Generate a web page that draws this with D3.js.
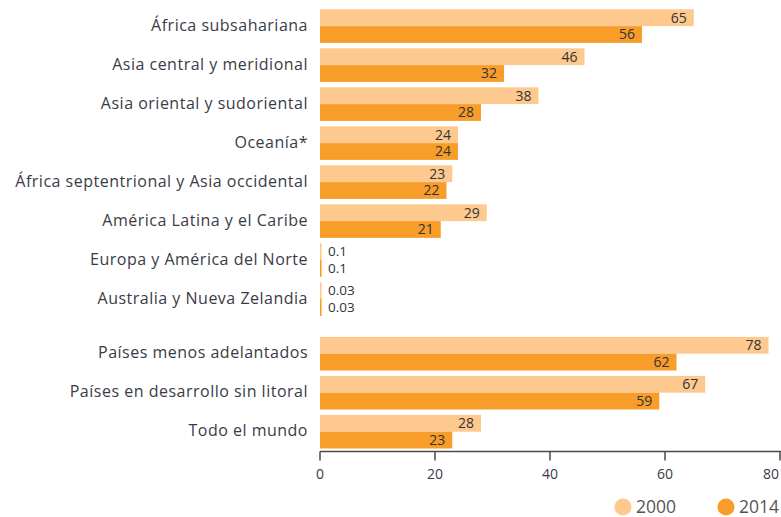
<!DOCTYPE html>
<html>
<head>
<meta charset="utf-8">
<script src="https://cdn.jsdelivr.net/npm/d3@7"></script>
<style>
  body { margin: 0; background: #fff; }
  text { font-family: "Open Sans", Lato, sans-serif; }
</style>
</head>
<body>
<svg id="chart" width="781" height="517"></svg>
<script>
// data
const categories = [
  "África subsahariana",
  "Asia central y meridional",
  "Asia oriental y sudoriental",
  "Oceanía*",
  "África septentrional y Asia occidental",
  "América Latina y el Caribe",
  "Europa y América del Norte",
  "Australia y Nueva Zelandia",
  "Países menos adelantados",
  "Países en desarrollo sin litoral",
  "Todo el mundo",
];
const values2000 = [65, 46, 38, 24, 23, 29, 0.1, 0.03, 78, 67, 28];
const values2014 = [56, 32, 28, 24, 22, 21, 0.1, 0.03, 62, 59, 23];
const valueLabels2000 = ["65", "46", "38", "24", "23", "29", "0.1", "0.03", "78", "67", "28"];
const valueLabels2014 = ["56", "32", "28", "24", "22", "21", "0.1", "0.03", "62", "59", "23"];
const seriesNames = ["2000", "2014"];
const xTicks = [0, 20, 40, 60, 80];

const colors = { "2000": "#fdc98f", "2014": "#f89d2a" };
const textColor = "#3b3b47";

const svg = d3.select("#chart");

const x = d3.scaleLinear().domain([0, 80]).range([320, 780]);

// rows: 8 regions, then a gap, then 3 groups
const rowPos = (i) => i + (i >= 8 ? 0.4 : 0);
const y = d3.scaleLinear().domain([0, 1]).range([9.3, 48.3]);
const barH = 16.8;

const rows = categories.map((c, i) => ({
  name: c,
  top: y(rowPos(i)),
  v: [values2000[i], values2014[i]],
  l: [valueLabels2000[i], valueLabels2014[i]],
}));

const g = svg.append("g");

rows.forEach((r) => {
  seriesNames.forEach((s, k) => {
    const w = Math.max(x(r.v[k]) - x(0), 1.6);
    g.append("rect")
      .attr("x", x(0))
      .attr("y", r.top + k * barH)
      .attr("width", w)
      .attr("height", barH)
      .attr("fill", colors[s]);
    const small = r.v[k] < 1;
    g.append("text")
      .attr("x", small ? x(0) + 8 : x(r.v[k]) - 7)
      .attr("y", r.top + k * barH + barH / 2)
      .attr("dy", "0.35em")
      .attr("text-anchor", small ? "start" : "end")
      .style("font-size", small ? "13.5px" : "14px")
      .attr("fill", "#333")
      .text(r.l[k]);
  });
  g.append("text")
    .attr("x", 308)
    .attr("y", r.top + barH - 1)
    .attr("dy", "0.35em")
    .attr("text-anchor", "end")
    .style("font-size", "16px")
    .style("letter-spacing", "0.5px")
    .attr("fill", textColor)
    .text(r.name);
});

// x axis
const axisY = 451.5;
const axis = svg.append("g").attr("transform", "translate(0," + axisY + ")");
axis.append("line")
  .attr("x1", x(0)).attr("x2", 781)
  .attr("stroke", "#4a4a4a").attr("stroke-width", 1.5);
axis.selectAll(".tick")
  .data(xTicks)
  .enter()
  .append("line")
  .attr("x1", (d) => x(d)).attr("x2", (d) => x(d))
  .attr("y1", 0).attr("y2", 9)
  .attr("stroke", "#4a4a4a").attr("stroke-width", 1.5);
axis.selectAll(".lbl")
  .data(xTicks)
  .enter()
  .append("text")
  .attr("x", (d) => (d === 80 ? 779 : x(d)))
  .attr("y", 23)
  .attr("dy", "0.35em")
  .attr("text-anchor", (d) => (d === 80 ? "end" : "middle"))
  .style("font-size", "14px")
  .attr("fill", textColor)
  .text((d) => d);

// legend
const legend = svg.append("g").attr("transform", "translate(623,507)");
seriesNames.forEach((s, i) => {
  legend.append("circle")
    .attr("cx", i * 103).attr("cy", 0).attr("r", 8.5)
    .attr("fill", colors[s]);
  legend.append("text")
    .attr("x", i * 103 + 13).attr("y", 0).attr("dy", "0.35em")
    .style("font-size", "17.5px")
    .attr("fill", "#555")
    .text(s);
});
</script>
</body>
</html>
